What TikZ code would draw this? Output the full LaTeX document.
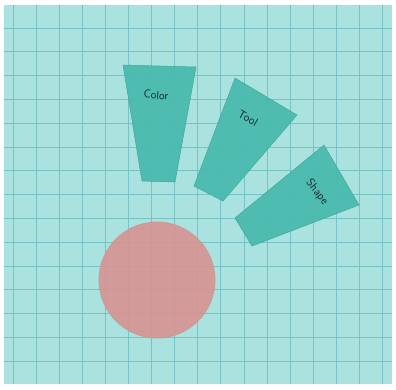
\documentclass[tikz,border=0pt]{standalone}
\usetikzlibrary{positioning}
\definecolor{paper}{RGB}{170,226,224}
\definecolor{gridln}{RGB}{118,194,196}
\definecolor{blade}{RGB}{74,186,175}
\definecolor{disc}{RGB}{214,148,146}
\definecolor{ink}{RGB}{20,40,42}
\tikzset{
  gridline/.style={gridln, line width=0.9pt},
  bladefill/.style={fill=blade, draw=blade!90!black, line width=0.5pt, fill opacity=0.94},
  discfill/.style={fill=disc, draw=disc!85!gridln, line width=0.8pt, fill opacity=0.92},
  bladelab/.style={font=\fontsize{11.5}{13}\selectfont\sffamily, text=ink, inner sep=0pt},
}

\begin{document}
\begin{tikzpicture}[x=1pt,y=-1pt]
  \useasboundingbox (0,0) rectangle (396,389);
  \fill[white] (0,0) rectangle (396,389);
  \fill[paper] (4,5) rectangle (392,384);
  % graph paper
  \foreach \k in {0,...,16}
    \draw[gridline] ({13+23.1*\k},5) -- ({13+23.1*\k},384);
  \foreach \k in {0,...,14}
    \draw[gridline] (4,{28+23.8*\k}) -- (392,{28+23.8*\k});
  % the three blades of the fan
  \draw[bladefill] (123,65) -- (196,67) -- (175,182) -- (142,181) -- cycle;
  \draw[bladefill] (235,78) -- (297,115) -- (223,201) -- (194,186) -- cycle;
  \draw[bladefill] (324,145) -- (359,205) -- (252,246) -- (235,218) -- cycle;
  % disc
  \draw[discfill] (157,280) circle[radius=58];
  % labels
  \node[bladelab, rotate=-5] (colorlab) at (156,95) {Color};
  \node[bladelab, rotate=-30] (toollab) at (248,118) {Tool};
  \node[bladelab, rotate=-52] (shapelab) at (317,192) {Shape};
\end{tikzpicture}
\end{document}
